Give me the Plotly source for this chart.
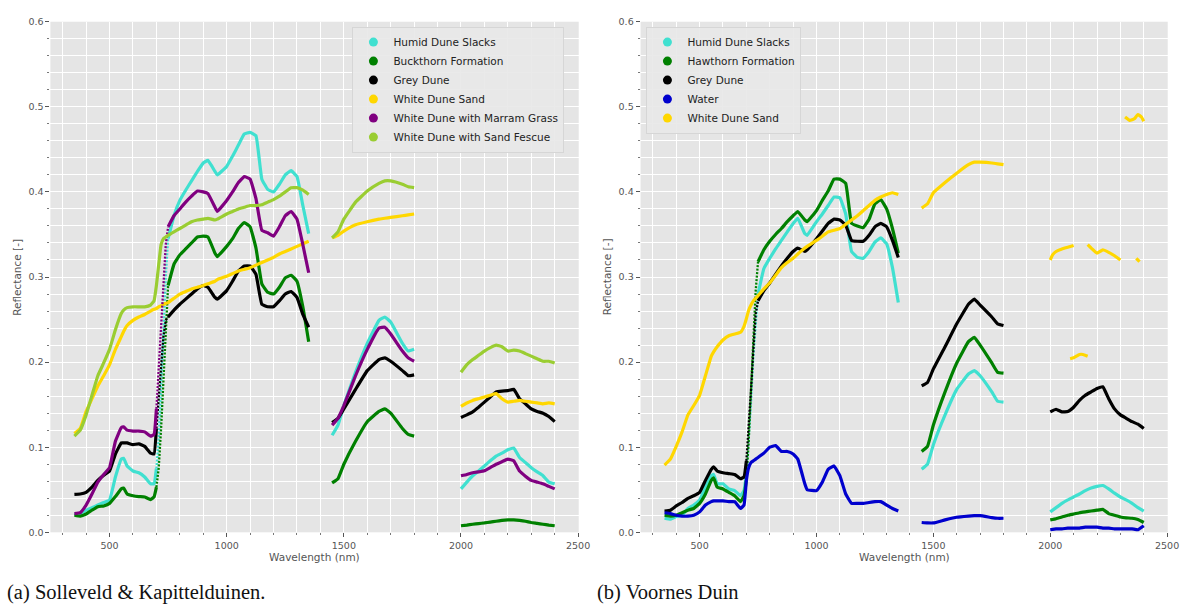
import plotly.graph_objects as go

# ---------------------------------------------------------------
# Wavelength sampling (nm) for the three detector ranges
# ---------------------------------------------------------------
WL_VNIR = [350, 375, 400, 425, 450, 475, 500, 525, 550, 560, 575, 600, 625, 650,
           675, 690, 700, 710, 720, 730, 740, 750, 775, 800, 825, 850, 875, 900,
           920, 950, 960, 1000, 1025, 1050, 1075, 1100, 1125, 1150, 1175, 1200,
           1225, 1250, 1275, 1300, 1325, 1350]
WL_SWIR1 = [1450, 1475, 1500, 1550, 1600, 1650, 1675, 1700, 1750, 1775, 1800]
WL_SWIR2 = [2000, 2025, 2050, 2075, 2100, 2125, 2150, 2175, 2200, 2225, 2250,
            2275, 2300, 2325, 2350, 2375, 2400]

# ---------------------------------------------------------------
# (a) Solleveld & Kapittelduinen - mean reflectance per class
# ---------------------------------------------------------------
a_humid_vnir = [.021, .022, .026, .029, .032, .035, .038, .065, .086, .087, .078, .072, .070, .065,
                .057, .057, .075, .11, .17, .24, .30, .345, .372, .39, .402, .413, .424, .434,
                .437, .424, .42, .43, .442, .455, .468, .470, .466, .415, .403, .40,
                .409, .42, .425, .418, .384, .351]
a_humid_swir1 = [.114, .126, .149, .188, .222, .249, .253, .247, .222, .213, .215]
a_humid_swir2 = [.051, .059, .0665, .072, .078, .084, .0896, .093, .097, .099, .088,
                 .082, .076, .071, .0665, .059, .057]

a_buck_vnir = [.020, .019, .0215, .026, .030, .031, .034, .042, .051, .052, .045, .043, .042, .0415,
               .0385, .0415, .053, .076, .122, .184, .245, .29, .315, .326, .333, .34, .347, .348,
               .347, .328, .324, .336, .345, .357, .364, .359, .334, .292, .282, .28,
               .288, .299, .302, .295, .265, .224]
a_buck_swir1 = [.058, .063, .08, .107, .13, .142, .145, .14, .122, .115, .113]
a_buck_swir2 = [.0077, .0085, .0095, .0103, .011, .012, .013, .014, .0146, .0146, .014,
                .013, .0115, .0105, .0095, .0085, .0077]

a_grey_vnir = [.0446, .045, .047, .053, .061, .067, .072, .092, .105, .105, .105, .103, .104, .101,
               .093, .092, .122, .161, .199, .23, .249, .253, .261, .268, .274, .28, .286, .29,
               .288, .276, .274, .284, .295, .307, .313, .313, .303, .268, .265, .265,
               .272, .28, .283, .276, .256, .241]
a_grey_swir1 = [.129, .134, .145, .168, .19, .203, .205, .201, .19, .184, .185]
a_grey_swir2 = [.135, .138, .1415, .147, .153, .159, .165, .166, .1665, .168, .157,
                .151, .145, .142, .14, .136, .13]

a_sand_vnir = [.116, .122, .142, .157, .172, .184, .197, .215, .23, .236, .243, .249, .253, .256,
               .26, .262, .263, .265, .266, .268, .269, .27, .275, .28, .283, .286, .288, .29,
               .292, .295, .297, .301, .304, .307, .309, .311, .314, .317, .320, .323,
               .327, .33, .333, .336, .339, .342]
a_sand_swir1 = [.346, .349, .354, .3615, .365, .368, .369, .37, .372, .373, .374]
a_sand_swir2 = [.148, .152, .155, .157, .159, .161, .163, .157, .153, .154, .155,
                .154, .153, .152, .151, .152, .151]

a_marram_vnir = [.022, .023, .032, .045, .059, .068, .076, .107, .123, .124, .120, .119, .119, .118,
                 .113, .115, .145, .195, .253, .30, .338, .359, .372, .38, .388, .395, .401, .40,
                 .398, .382, .377, .39, .40, .411, .418, .415, .392, .355, .352, .348,
                 .359, .372, .377, .368, .338, .305]
a_marram_swir1 = [.126, .134, .149, .184, .215, .24, .241, .233, .213, .205, .201]
a_marram_swir2 = [.0665, .068, .070, .071, .0723, .076, .08, .083, .086, .084, .072,
                  .066, .061, .059, .057, .054, .051]

a_fescue_vnir = [.113, .12, .138, .161, .184, .199, .215, .238, .257, .261, .264, .265, .265, .265,
                 .267, .272, .29, .315, .338, .345, .347, .349, .353, .357, .361, .365, .367, .368,
                 .369, .367, .368, .374, .377, .38, .382, .384, .384, .385, .388, .391,
                 .395, .40, .405, .405, .402, .397]
a_fescue_swir1 = [.346, .353, .368, .388, .401, .41, .413, .413, .409, .406, .405]
a_fescue_swir2 = [.188, .197, .203, .208, .213, .217, .22, .218, .213, .214, .213,
                  .21, .207, .204, .201, .201, .199]

# ---------------------------------------------------------------
# (b) Voornes Duin - mean reflectance per class
# ---------------------------------------------------------------
b_humid_vnir = [.0165, .0154, .0185, .020, .028, .032, .038, .053, .0665, .068, .057, .057, .051, .049,
                .043, .049, .068, .107, .153, .207, .245, .28, .31, .322, .333, .343, .353, .363,
                .369, .351, .349, .365, .374, .384, .394, .393, .374, .33, .323, .322,
                .33, .341, .346, .339, .311, .27]
b_humid_swir1 = [.074, .08, .103, .138, .168, .186, .19, .184, .165, .154, .153]
b_humid_swir2 = [.024, .029, .034, .038, .0415, .045, .049, .052, .054, .055, .051,
                 .046, .0415, .038, .034, .029, .025]

b_hawthorn_vnir = [.020, .019, .020, .023, .026, .028, .034, .045, .061, .064, .053, .051, .047, .043,
                   .036, .043, .061, .107, .168, .23, .284, .318, .332, .342, .35, .357, .365, .372,
                   .377, .367, .365, .378, .39, .401, .415, .415, .41, .363, .36, .358,
                   .368, .386, .391, .38, .357, .328]
b_hawthorn_swir1 = [.095, .101, .126, .165, .199, .224, .229, .22, .199, .188, .187]
b_hawthorn_swir2 = [.0146, .016, .018, .02, .0215, .023, .024, .025, .026, .027, .022,
                    .02, .018, .017, .0165, .015, .0115]

b_grey_vnir = [.025, .026, .031, .035, .040, .043, .047, .061, .074, .077, .072, .070, .069, .068,
               .063, .065, .084, .122, .168, .215, .257, .272, .284, .293, .303, .313, .322, .33,
               .334, .33, .332, .345, .354, .363, .368, .367, .361, .343, .342, .342,
               .349, .359, .363, .359, .343, .323]
b_grey_swir1 = [.172, .176, .192, .218, .245, .268, .274, .267, .253, .245, .243]
b_grey_swir2 = [.1415, .1446, .1415, .142, .147, .155, .161, .165, .169, .171, .157,
                .145, .138, .134, .13, .127, .122]

b_water_vnir = [.023, .022, .020, .019, .019, .020, .024, .032, .036, .037, .037, .037, .036, .036,
                .028, .032, .061, .076, .082, .084, .086, .088, .093, .10, .102, .095, .095, .092,
                .086, .057, .05, .049, .059, .074, .078, .0665, .045, .034, .034, .034,
                .035, .036, .036, .032, .028, .025]
b_water_swir1 = [.0115, .011, .011, .0146, .0177, .019, .0195, .0196, .0173, .0165, .0165]
b_water_swir2 = [.003, .004, .004, .005, .005, .005, .006, .006, .006, .005, .005,
                 .004, .004, .004, .004, .003, .0077]

b_sand_vnir = [.079, .086, .101, .118, .138, .149, .161, .184, .207, .212, .218, .226, .231, .233,
               .235, .242, .251, .261, .267, .272, .275, .278, .286, .293, .302, .311, .317, .322,
               .327, .334, .336, .343, .348, .353, .355, .357, .362, .367, .372, .378,
               .384, .39, .394, .397, .399, .397]
b_sand_swir1 = [.381, .386, .399, .411, .422, .432, .435, .435, .434, .433, .432]
# the sand spectrum beyond 2000 nm is broken into scattered pieces
b_sand_wl_swir2 = [2000, 2010, 2025, 2050, 2075, 2100, None,
                   2160, 2175, 2200, 2225, 2250, 2275, 2300, None,
                   2368, 2382, None,
                   2085, 2100, 2125, 2140, 2160, None,
                   2320, 2340, 2360, 2375, 2390, 2400]
b_sand_swir2 = [.32, .326, .33, .333, .335, .337, None,
                .338, .334, .328, .332, .329, .325, .32, None,
                .322, .318, None,
                .204, .205, .209, .209, .207, None,
                .488, .484, .486, .491, .488, .483]

COLORS = {
    "Humid Dune Slacks": "#40E0D0",
    "Buckthorn Formation": "#008000",
    "Hawthorn Formation": "#008000",
    "Grey Dune": "#000000",
    "White Dune Sand": "#FFD700",
    "White Dune with Marram Grass": "#800080",
    "White Dune with Sand Fescue": "#9ACD32",
    "Water": "#0000CD",
}

# (name, VNIR, SWIR-1, SWIR-2, SWIR-2 wavelengths, sparse red edge)
PANEL_A = [
    ("Humid Dune Slacks", a_humid_vnir, a_humid_swir1, a_humid_swir2, WL_SWIR2, True),
    ("Buckthorn Formation", a_buck_vnir, a_buck_swir1, a_buck_swir2, WL_SWIR2, True),
    ("Grey Dune", a_grey_vnir, a_grey_swir1, a_grey_swir2, WL_SWIR2, True),
    ("White Dune Sand", a_sand_vnir, a_sand_swir1, a_sand_swir2, WL_SWIR2, False),
    ("White Dune with Marram Grass", a_marram_vnir, a_marram_swir1, a_marram_swir2, WL_SWIR2, True),
    ("White Dune with Sand Fescue", a_fescue_vnir, a_fescue_swir1, a_fescue_swir2, WL_SWIR2, False),
]
PANEL_B = [
    ("Humid Dune Slacks", b_humid_vnir, b_humid_swir1, b_humid_swir2, WL_SWIR2, True),
    ("Hawthorn Formation", b_hawthorn_vnir, b_hawthorn_swir1, b_hawthorn_swir2, WL_SWIR2, True),
    ("Grey Dune", b_grey_vnir, b_grey_swir1, b_grey_swir2, WL_SWIR2, True),
    ("Water", b_water_vnir, b_water_swir1, b_water_swir2, WL_SWIR2, False),
    ("White Dune Sand", b_sand_vnir, b_sand_swir1, b_sand_swir2, b_sand_wl_swir2, False),
]

# the steep red edge is sampled sparsely and shows as a thin dotted trail
EDGE_START = WL_VNIR.index(700)
EDGE_END = WL_VNIR.index(750)

fig = go.Figure()


def add_panel(panel, xaxis, yaxis, legend):
    for name, vnir, swir1, swir2, wl2, sparse_edge in panel:
        color = COLORS[name]
        vnir = list(vnir)
        if sparse_edge:
            x_v = WL_VNIR[:EDGE_START + 1] + [None] + WL_VNIR[EDGE_END:]
            y_v = vnir[:EDGE_START + 1] + [None] + vnir[EDGE_END:]
            fig.add_trace(go.Scatter(
                x=WL_VNIR[EDGE_START:EDGE_END + 1], y=vnir[EDGE_START:EDGE_END + 1],
                mode="lines", showlegend=False, name=name,
                line=dict(color=color, width=2.3, dash="2px,1.5px"),
                xaxis=xaxis, yaxis=yaxis,
            ))
        else:
            x_v, y_v = list(WL_VNIR), vnir
        # absorption bands (water vapour) are left out as gaps
        x = x_v + [None] + WL_SWIR1 + [None] + list(wl2)
        y = y_v + [None] + list(swir1) + [None] + list(swir2)
        fig.add_trace(go.Scatter(
            x=x, y=y, mode="lines", name=name, showlegend=False,
            line=dict(color=color, width=3.2, shape="spline", smoothing=0.3),
            connectgaps=False, xaxis=xaxis, yaxis=yaxis,
        ))
        # legend entry drawn as a plain dot
        fig.add_trace(go.Scatter(
            x=[None], y=[None], mode="markers", name=name, legend=legend,
            marker=dict(color=color, size=9), xaxis=xaxis, yaxis=yaxis,
        ))


add_panel(PANEL_A, "x", "y", "legend")
add_panel(PANEL_B, "x2", "y2", "legend2")

W, H = 1191, 608
TICK_FONT = dict(family="DejaVu Sans", size=9.5, color="#555555")
BG = "#E5E5E5"


def xaxis_style(left_px, right_px, anchor):
    return dict(
        domain=[left_px / W, right_px / W], anchor=anchor,
        range=[247.5, 2502.5], tickmode="linear", tick0=0, dtick=500,
        ticks="outside", ticklen=4, tickcolor="#555555", tickfont=TICK_FONT,
        showgrid=True, gridcolor="white", gridwidth=1.1, zeroline=False,
        showline=False,
        minor=dict(dtick=100, tick0=0, ticks="outside", ticklen=2, tickcolor="#777777",
                   showgrid=True, gridcolor="white", gridwidth=0.7),
    )


def yaxis_style(anchor):
    return dict(
        domain=[(H - 536) / H, (H - 16) / H], anchor=anchor,
        range=[0, 0.6], tickmode="linear", tick0=0, dtick=0.1, tickformat=".1f",
        ticks="outside", ticklen=4, tickcolor="#555555", tickfont=TICK_FONT,
        showgrid=True, gridcolor="white", gridwidth=1.1, zeroline=False,
        showline=False,
        minor=dict(dtick=0.02, tick0=0, ticks="outside", ticklen=2, tickcolor="#777777",
                   showgrid=True, gridcolor="white", gridwidth=0.7),
    )


LEGEND_STYLE = dict(
    xanchor="left", yanchor="top",
    bgcolor="rgba(232,232,232,0.9)", bordercolor="#D6D6D6", borderwidth=1,
    font=dict(family="DejaVu Sans", size=10.5, color="#222222"),
    tracegroupgap=0, itemwidth=30,
)

fig.update_layout(
    width=W, height=H,
    margin=dict(l=0, r=0, t=0, b=0),
    paper_bgcolor="white", plot_bgcolor=BG,
    xaxis=xaxis_style(50.9, 584.6, "y"),
    yaxis=yaxis_style("x"),
    xaxis2=xaxis_style(647.1, 1179.6, "y2"),
    yaxis2=yaxis_style("x2"),
    legend=dict(x=356 / W, y=1 - 21 / H, **LEGEND_STYLE),
    legend2=dict(x=653 / W, y=1 - 21 / H, **LEGEND_STYLE),
    showlegend=True,
)

LABEL_FONT = dict(family="DejaVu Sans", size=10.5, color="#555555")
CAPTION_FONT = dict(family="Liberation Serif", size=20.5, color="#111111")

annotations = [
    dict(text="Wavelength (nm)", x=(50.9 + 584.6) / 2 / W, y=1 - 561 / H,
         xref="paper", yref="paper", showarrow=False, font=LABEL_FONT,
         xanchor="center", yanchor="middle"),
    dict(text="Wavelength (nm)", x=(647.1 + 1179.6) / 2 / W, y=1 - 561 / H,
         xref="paper", yref="paper", showarrow=False, font=LABEL_FONT,
         xanchor="center", yanchor="middle"),
    dict(text="Reflectance [-]", x=17 / W, y=1 - 276 / H, textangle=-90,
         xref="paper", yref="paper", showarrow=False, font=LABEL_FONT,
         xanchor="center", yanchor="middle"),
    dict(text="Reflectance [-]", x=613.5 / W, y=1 - 276 / H, textangle=-90,
         xref="paper", yref="paper", showarrow=False, font=LABEL_FONT,
         xanchor="center", yanchor="middle"),
    dict(text="(a) Solleveld &amp; Kapittelduinen.", x=5 / W, y=1 - 597 / H,
         xref="paper", yref="paper", showarrow=False, font=CAPTION_FONT,
         xanchor="left", yanchor="middle"),
    dict(text="(b) Voornes Duin", x=601 / W, y=1 - 597 / H,
         xref="paper", yref="paper", showarrow=False, font=CAPTION_FONT,
         xanchor="left", yanchor="middle"),
]
fig.update_layout(annotations=annotations)

# keep the figure flush with the page edges
fig.write_html("out.html", post_script="document.body.style.margin='0px';")
